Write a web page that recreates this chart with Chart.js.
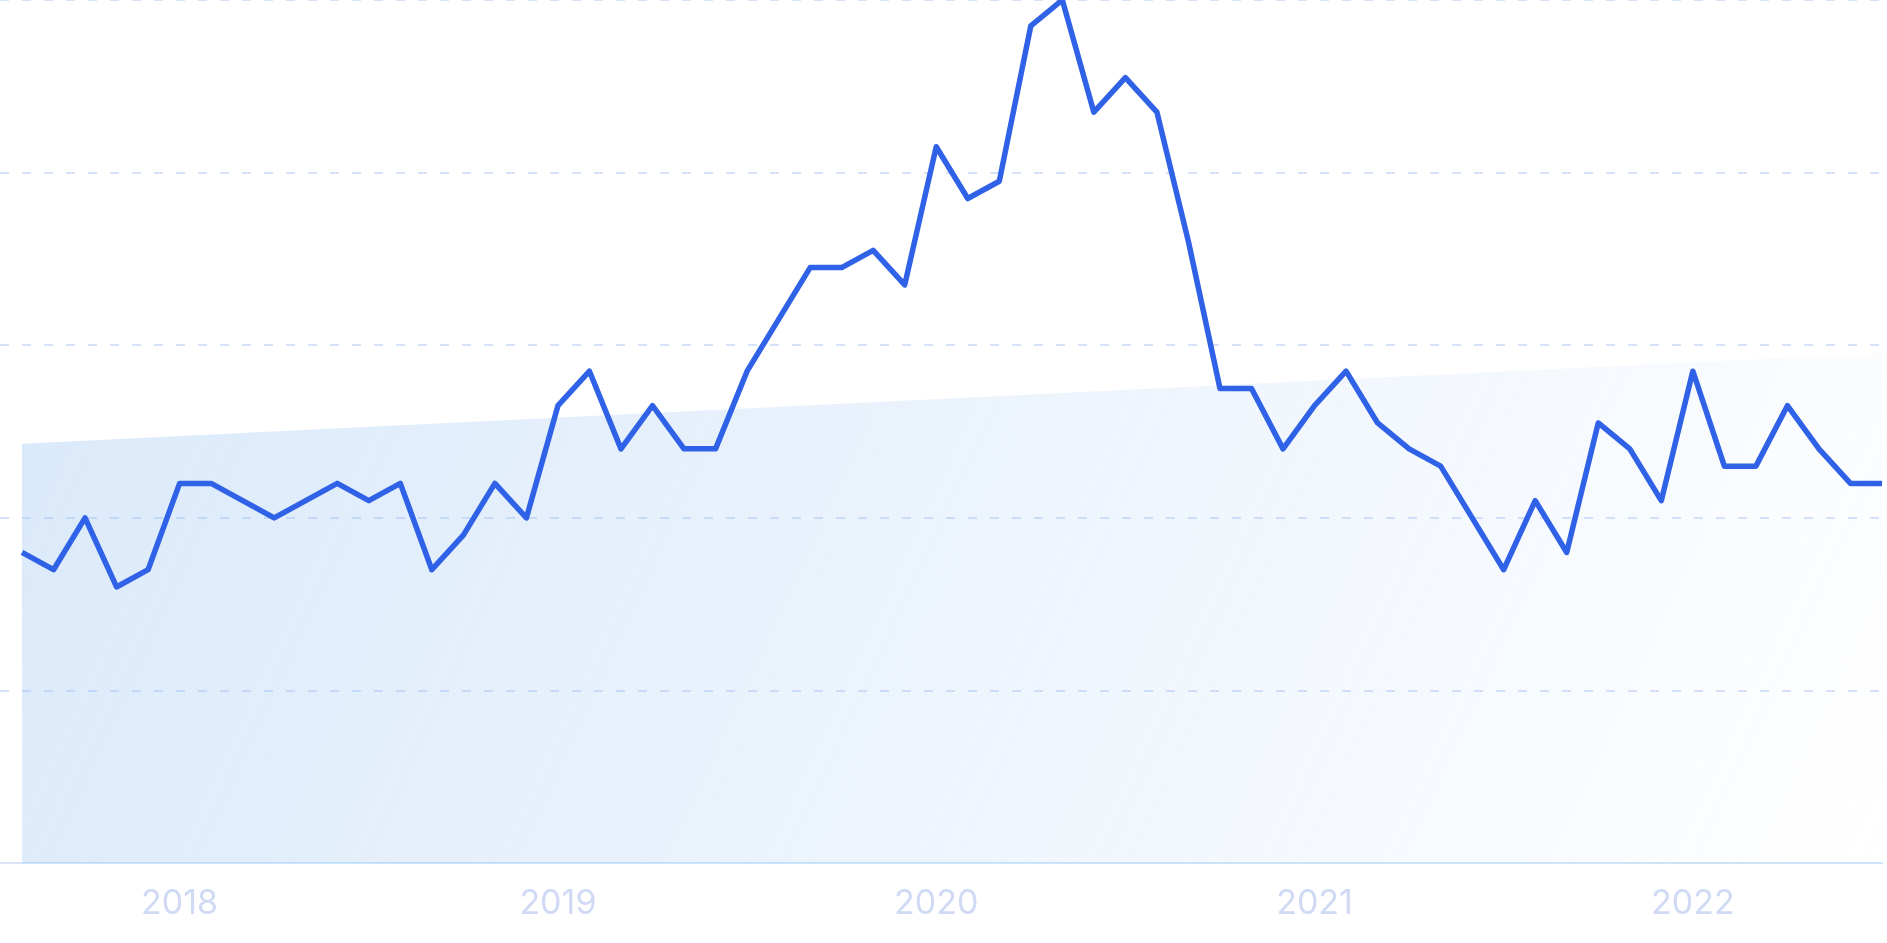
<!DOCTYPE html>
<html>
<head>
<meta charset="utf-8">
<title>Interest over time</title>
<script src="https://cdn.jsdelivr.net/npm/chart.js@4/dist/chart.umd.min.js"></script>
<style>
    html, body { margin: 0; padding: 0; background: #ffffff; overflow: hidden; }
    #interestChart { display: block; }
</style>
</head>
<body>
<canvas id="interestChart" width="1887" height="943"></canvas>
<script>
// monthly categories, Aug 2017 - Jul 2022
const months = [
    '2017-08', '2017-09', '2017-10', '2017-11', '2017-12',
    '2018-01', '2018-02', '2018-03', '2018-04', '2018-05', '2018-06', '2018-07', '2018-08', '2018-09', '2018-10', '2018-11', '2018-12',
    '2019-01', '2019-02', '2019-03', '2019-04', '2019-05', '2019-06', '2019-07', '2019-08', '2019-09', '2019-10', '2019-11', '2019-12',
    '2020-01', '2020-02', '2020-03', '2020-04', '2020-05', '2020-06', '2020-07', '2020-08', '2020-09', '2020-10', '2020-11', '2020-12',
    '2021-01', '2021-02', '2021-03', '2021-04', '2021-05', '2021-06', '2021-07', '2021-08', '2021-09', '2021-10', '2021-11', '2021-12',
    '2022-01', '2022-02', '2022-03', '2022-04', '2022-05', '2022-06', '2022-07'
];

const interest = [
    36, 34, 40, 32, 34,
    44, 44, 42, 40, 42, 44, 42, 44, 34, 38, 44, 40,
    53, 57, 48, 53, 48, 48, 57, 63, 69, 69, 71, 67,
    83, 77, 79, 97, 100, 87, 91, 87, 72, 55, 55, 48,
    53, 57, 51, 48, 46, 40, 34, 42, 36, 51, 48, 42,
    57, 46, 46, 53, 48, 44, 44
];

// straight trend, start and end values only
const trendStart = 48.6;
const trendEnd = 59.1;

const yTicks = { min: 0, max: 100, step: 20 };

const trendFill = (context) => {
    const chart = context.chart;
    const area = chart.chartArea;
    if (!area) return 'rgba(145, 190, 240, 0.3)';
    const g = chart.ctx.createLinearGradient(area.left, area.top, area.right, area.bottom);
    g.addColorStop(0, 'rgba(145, 190, 240, 0.36)');
    g.addColorStop(1, 'rgba(145, 190, 240, 0)');
    return g;
};

const ctx = document.getElementById('interestChart');
new Chart(ctx, {
    type: 'line',
    data: {
        labels: months,
        datasets: [
            {
                label: 'Interest',
                data: interest,
                borderColor: '#2f62e6',
                borderWidth: 5.5,
                borderJoinStyle: 'round',
                pointRadius: 0,
                pointHoverRadius: 0,
                tension: 0,
                fill: false,
                order: 1
            },
            {
                label: 'Trend',
                data: [
                    { x: months[0], y: trendStart },
                    { x: months[months.length - 1], y: trendEnd }
                ],
                borderWidth: 0,
                borderColor: 'rgba(0,0,0,0)',
                backgroundColor: trendFill,
                pointRadius: 0,
                pointHoverRadius: 0,
                fill: 'origin',
                order: 2
            }
        ]
    },
    options: {
        responsive: false,
        animation: false,
        devicePixelRatio: 1,
        layout: {
            autoPadding: false,
            padding: { top: 0, right: 5, bottom: 19, left: 0 }
        },
        plugins: {
            legend: { display: false },
            tooltip: { enabled: false }
        },
        scales: {
            x: {
                // invisible tick marks give the gap above the year labels
                grid: {
                    display: true,
                    drawOnChartArea: false,
                    drawTicks: true,
                    tickLength: 20,
                    tickColor: 'rgba(0,0,0,0)'
                },
                border: { display: true, color: '#cde5fb', width: 2 },
                ticks: {
                    autoSkip: false,
                    maxRotation: 0,
                    padding: 0,
                    color: '#d0daf5',
                    font: { family: 'Inter', size: 34 },
                    callback: function (value, index) {
                        const m = months[index];
                        return m.endsWith('-01') ? m.slice(0, 4) : '';
                    }
                }
            },
            y: {
                min: yTicks.min,
                max: yTicks.max,
                grid: {
                    color: (c) => c.tick && c.tick.value === 0 ? '#dde3f7' : '#d6e2fa',
                    lineWidth: 2,
                    drawTicks: true,
                    tickLength: 22,
                    borderDash: [9, 13],
                    tickBorderDash: (c) => c.tick && c.tick.value === 0 ? [] : [9, 13]
                },
                border: { display: false, dash: [9, 13] },
                ticks: { display: false, stepSize: yTicks.step }
            }
        }
    }
});
</script>
</body>
</html>
